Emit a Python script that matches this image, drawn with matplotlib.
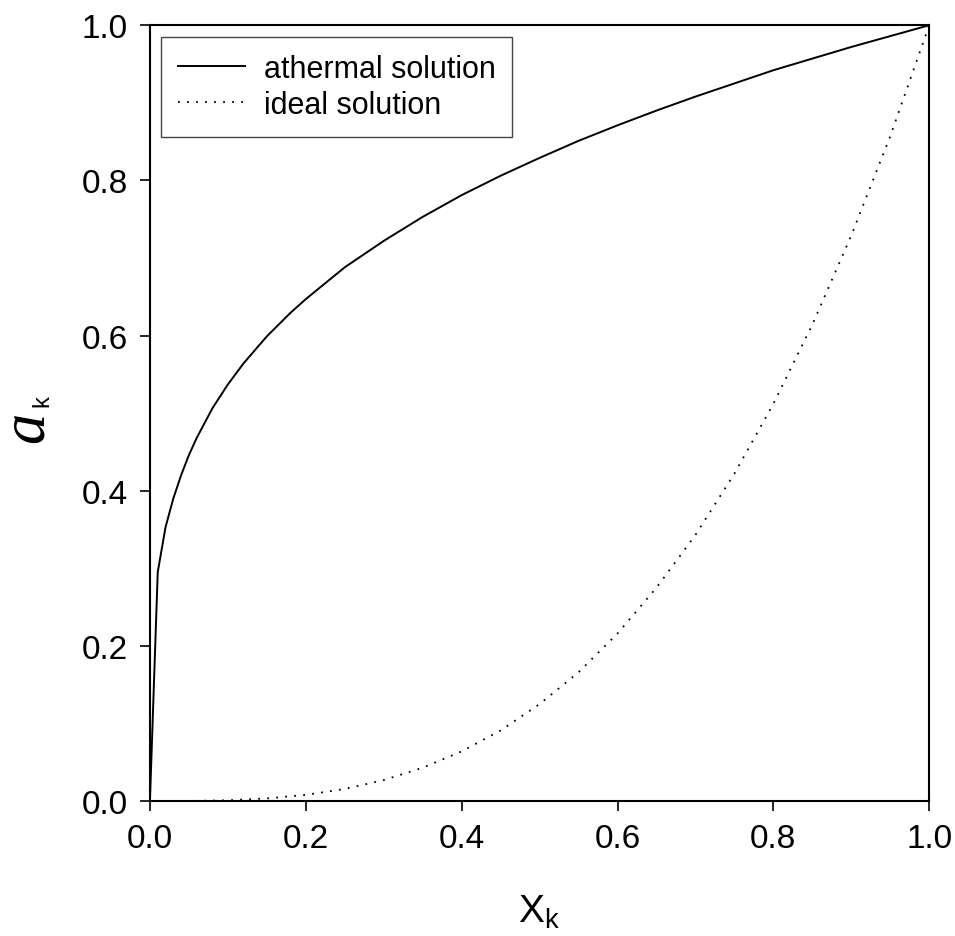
import matplotlib
matplotlib.use("Agg")
import matplotlib.pyplot as plt

plt.rcParams["font.family"] = ["Liberation Sans", "DejaVu Sans"]
plt.rcParams["mathtext.fontset"] = "custom"
plt.rcParams["mathtext.rm"] = "Liberation Sans"

# athermal solution
x_ath = [0.0, 0.01, 0.02, 0.03, 0.04, 0.05, 0.06, 0.08, 0.10, 0.12, 0.15, 0.18,
         0.20, 0.25, 0.30, 0.35, 0.40, 0.45, 0.50, 0.55, 0.60, 0.65, 0.70, 0.75,
         0.80, 0.85, 0.90, 0.95, 1.00]
a_ath = [0.0, 0.295, 0.353, 0.390, 0.420, 0.446, 0.468, 0.506, 0.537, 0.564, 0.599, 0.629,
         0.647, 0.688, 0.722, 0.753, 0.781, 0.806, 0.829, 0.851, 0.871, 0.890, 0.908, 0.925,
         0.942, 0.957, 0.972, 0.986, 1.000]

# ideal solution
x_id = [0.0, 0.05, 0.10, 0.15, 0.20, 0.25, 0.30, 0.35, 0.40, 0.45, 0.50,
        0.55, 0.60, 0.65, 0.70, 0.75, 0.80, 0.85, 0.90, 0.95, 1.00]
a_id = [0.0, 0.0001, 0.001, 0.0034, 0.008, 0.0156, 0.027, 0.043, 0.064, 0.091, 0.125,
        0.166, 0.216, 0.275, 0.343, 0.422, 0.512, 0.614, 0.729, 0.857, 1.000]

ticks = [0.0, 0.2, 0.4, 0.6, 0.8, 1.0]

fig = plt.figure(figsize=(9.55, 9.37), dpi=100)
ax = fig.add_axes([0.157, 0.144, 0.816, 0.828])

ax.plot(x_ath, a_ath, color="black", lw=1.4, label="athermal solution")
ax.plot(x_id, a_id, color="black", lw=1.3, linestyle=(0, (1, 4)), label="ideal solution")

ax.set_xlim(0, 1)
ax.set_ylim(0, 1)
ax.set_xticks(ticks)
ax.set_yticks(ticks)
ax.set_xticklabels([f"{t:.1f}" for t in ticks])
ax.set_yticklabels([f"{t:.1f}" for t in ticks])
ax.tick_params(direction="out", length=7, width=1.2, labelsize=24, pad=9)
for s in ax.spines.values():
    s.set_linewidth(1.5)

# axis labels placed by hand
fig.text(0.5644, 0.0149, r"$\mathrm{X}_{\mathrm{k}}$", fontsize=28,
         ha="center", va="baseline")
fig.text(28 / 955, 1 - 427 / 937, "a", family="Liberation Serif", style="italic",
         fontsize=45, rotation=90, ha="center", va="center")
fig.text(42 / 955, 1 - 401 / 937, "k", fontsize=17, rotation=90,
         ha="center", va="center")

leg = ax.legend(loc="upper left", bbox_to_anchor=(0.014, 0.985), borderaxespad=0,
                fontsize=22, fancybox=False, framealpha=1, edgecolor="#444444",
                handlelength=2.2, handletextpad=0.62, borderpad=0.55, labelspacing=0.2)
leg.get_frame().set_linewidth(1.0)

fig.savefig("out.png", dpi=100)
